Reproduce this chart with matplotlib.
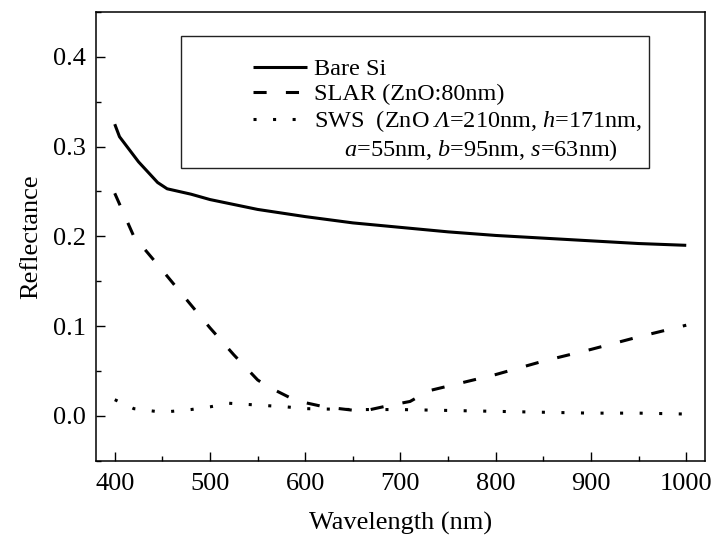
import matplotlib
matplotlib.use("Agg")
import matplotlib.pyplot as plt
from matplotlib.lines import Line2D
from matplotlib.patches import Rectangle
from matplotlib.ticker import MultipleLocator

plt.rcParams['font.family'] = ['Liberation Serif', 'DejaVu Serif']
plt.rcParams['mathtext.fontset'] = 'custom'
plt.rcParams['mathtext.rm'] = 'Liberation Serif'
plt.rcParams['mathtext.it'] = 'Liberation Serif:italic'
plt.rcParams['mathtext.sf'] = 'Liberation Serif:italic'

# Data
bare_wl = [400, 405, 425, 445, 455, 480, 500, 550, 600, 650, 700, 750, 800, 850, 900, 950, 1000]
bare_r = [0.325, 0.311, 0.283, 0.260, 0.253, 0.247, 0.241, 0.230, 0.222, 0.215, 0.210, 0.205,
          0.201, 0.198, 0.195, 0.192, 0.190]

slar_wl = [400, 420, 447, 475, 500, 525, 550, 560, 590, 620, 660, 690, 710, 730, 800, 850, 900, 950, 1000]
slar_r = [0.248, 0.200, 0.166, 0.130, 0.098, 0.068, 0.040, 0.033, 0.017, 0.010, 0.005, 0.012,
          0.016, 0.028, 0.046, 0.061, 0.074, 0.088, 0.101]

sws_wl = [400, 420, 450, 480, 500, 520, 550, 580, 600, 650, 700, 750, 800, 850, 900, 950, 1000]
sws_r = [0.018, 0.008, 0.004, 0.007, 0.010, 0.014, 0.012, 0.010, 0.008, 0.007, 0.007, 0.006,
         0.005, 0.004, 0.003, 0.003, 0.002]

labels = ["Bare Si",
          "SLAR (ZnO:80nm)",
          "SWS  (ZnO $\\mathsf{Λ}$=210nm, $\\mathit{h}$=171nm,",
          "     $\\mathit{a}$=55nm, $\\mathit{b}$=95nm, $\\mathit{s}$=63nm)"]

W, H = 716, 547
fig = plt.figure(figsize=(W / 100, H / 100), dpi=100)
ax_l, ax_r, ax_t, ax_b = 95.7, 705.3, 12, 460.7
ax = fig.add_axes([ax_l / W, 1 - ax_b / H, (ax_r - ax_l) / W, (ax_b - ax_t) / H])

lw = 2.2
l1, = ax.plot(bare_wl, bare_r, color='black', lw=lw, solid_capstyle='butt')
l2, = ax.plot(slar_wl, slar_r, color='black', lw=lw, linestyle=(0, (4.3, 6.3)), dash_capstyle='butt')
l3, = ax.plot(sws_wl, sws_r, color='black', lw=lw, linestyle=(0, (1.0, 5.4)), dash_capstyle='butt')
blank = Line2D([], [], linestyle='none')

ax.set_xlim(380, 1020)
ax.set_ylim(-0.05, 0.45)
ax.xaxis.set_major_locator(MultipleLocator(100))
ax.xaxis.set_minor_locator(MultipleLocator(50))
ax.yaxis.set_major_locator(MultipleLocator(0.1))
ax.yaxis.set_minor_locator(MultipleLocator(0.05))
ax.yaxis.set_major_formatter(matplotlib.ticker.FormatStrFormatter('%.1f'))

for s in ax.spines.values():
    s.set_linewidth(1.1)
ax.tick_params(which='major', direction='in', length=6.5, width=1.0, labelsize=19)
ax.tick_params(which='minor', direction='in', length=3.8, width=1.0)
ax.tick_params(axis='x', which='major', pad=9)
ax.tick_params(axis='y', which='major', pad=7)

ax.set_xlabel("Wavelength (nm)", fontsize=19, labelpad=12)
ax.set_ylabel("Reflectance", fontsize=19, labelpad=8)

# legend box
bx0, by0, bx1, by1 = 181, 36, 649, 168
box = Rectangle(((bx0 - ax_l) / (ax_r - ax_l), (ax_b - by1) / (ax_b - ax_t)),
                (bx1 - bx0) / (ax_r - ax_l), (by1 - by0) / (ax_b - ax_t),
                transform=ax.transAxes, fill=False, edgecolor='#222222', lw=1.0, zorder=3)
ax.add_patch(box)

leg = ax.legend([l1, l2, l3, blank], labels, loc='upper left',
                bbox_to_anchor=((252.7 - ax_l) / (ax_r - ax_l), (ax_b - 58) / (ax_b - ax_t)),
                frameon=False, fontsize=17.5, handlelength=2.25, handletextpad=0.28,
                labelspacing=0.13, borderpad=0, borderaxespad=0)

fig.savefig("out.png", dpi=100)
